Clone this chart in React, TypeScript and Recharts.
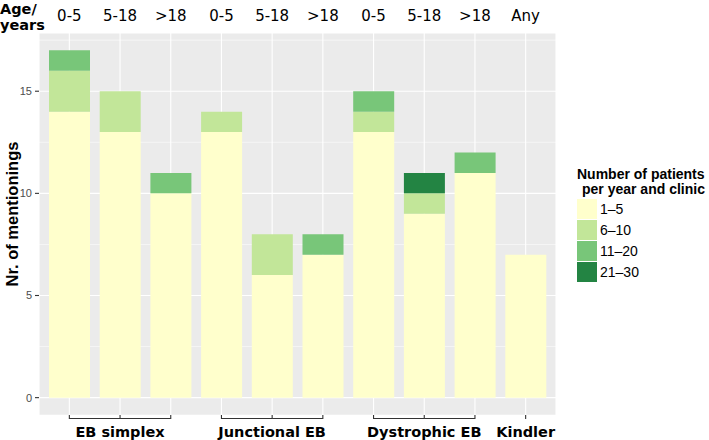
import React from "react";
import { BarChart, Bar, XAxis, YAxis, CartesianGrid } from "recharts";

// disease groups and age bands, one entry per bar
const groups = [
  "EB simplex", "EB simplex", "EB simplex",
  "Junctional EB", "Junctional EB", "Junctional EB",
  "Dystrophic EB", "Dystrophic EB", "Dystrophic EB",
  "Kindler",
];
const ages = ["0-5", "5-18", ">18", "0-5", "5-18", ">18", "0-5", "5-18", ">18", "Any"];

// number of mentionings per patient-count class
const n1to5 = [14, 13, 10, 13, 6, 7, 13, 9, 11, 7];
const n6to10 = [2, 2, 0, 1, 2, 0, 1, 1, 0, 0];
const n11to20 = [1, 0, 1, 0, 0, 1, 1, 0, 1, 0];
const n21to30 = [0, 0, 0, 0, 0, 0, 0, 1, 0, 0];

const classLabels = ["1–5", "6–10", "11–20", "21–30"];
const classColors = ["#FFFFCC", "#C2E699", "#78C679", "#238443"];
const classKeys = ["c1", "c2", "c3", "c4"];

const yTicks = [0, 2.5, 5, 7.5, 10, 12.5, 15, 17.5];

const data = ages.map((age, i) => ({
  key: `${groups[i]} ${age}`,
  c1: n1to5[i],
  c2: n6to10[i],
  c3: n11to20[i],
  c4: n21to30[i],
}));

const W = 709;
const H = 440;
const RIGHT = 153;
const Y_AXIS_W = 39;
const TOP_H = 33;
const BOTTOM_H = 25;
const PAD = 5;
const STEP = (W - RIGHT - Y_AXIS_W - 2 * PAD) / ages.length;

const SANS = "'Liberation Sans', Arial, sans-serif";
const VERDANA = "'DejaVu Sans', Verdana, sans-serif";

function TopTick(props: any) {
  const { x, y, index } = props;
  return (
    <text x={x} y={y} textAnchor="middle" fontFamily={VERDANA} fontSize={15} fill="#000">
      {ages[index]}
    </text>
  );
}

function BottomTick(props: any) {
  const { x, y, index } = props;
  const g = groups[index];
  const members = groups.map((gg, i) => (gg === g ? i : -1)).filter((i) => i >= 0);
  const mid = members[Math.floor(members.length / 2)];
  const sameNext = groups[index + 1] === g;
  return (
    <g>
      <line x1={x} x2={x} y1={y} y2={y + 4} stroke="#333" strokeWidth={1.1} />
      {sameNext && (
        <line x1={x} x2={x + STEP} y1={y + 3.5} y2={y + 3.5} stroke="#333" strokeWidth={1.1} />
      )}
      {index === mid && (
        <text x={x} y={y + 22} textAnchor="middle" fontFamily={VERDANA} fontWeight="bold" fontSize={14.5} fill="#000">
          {g}
        </text>
      )}
    </g>
  );
}

function LeftTick(props: any) {
  const { x, y, payload } = props;
  if (payload.value % 5 !== 0) return null;
  return (
    <g>
      <line x1={x + 3} x2={x + 7} y1={y} y2={y} stroke="#333" strokeWidth={1.1} />
      <text x={x} y={y} dy="0.36em" textAnchor="end" fontFamily={SANS} fontSize={11} fill="#4D4D4D">
        {payload.value}
      </text>
    </g>
  );
}

function GridLine(props: any) {
  const { x1, x2, y1, y2, index } = props;
  return (
    <line
      x1={x1}
      x2={x2}
      y1={y1}
      y2={y2}
      stroke="#FFFFFF"
      strokeWidth={index % 2 === 0 ? 1.1 : 0.55}
    />
  );
}

function YTitle(props: any) {
  const { viewBox } = props;
  const cx = viewBox.x + 12;
  const cy = viewBox.y + viewBox.height / 2 - 10;
  return (
    <text
      x={cx}
      y={cy}
      transform={`rotate(-90 ${cx} ${cy})`}
      textAnchor="middle"
      dy="0.36em"
      fontFamily={SANS}
      fontWeight="bold"
      fontSize={16.5}
      fill="#000"
    >
      Nr. of mentionings
    </text>
  );
}

export default function App() {
  return (
    <div style={{ position: "absolute", left: 0, top: 0, width: W, height: H, background: "#fff" }}>
      <BarChart width={W} height={H} data={data} margin={{ top: 0, right: RIGHT, bottom: 0, left: 0 }}>
        <CartesianGrid
          xAxisId="bottom"
          fill="#EBEBEB"
          stroke="#FFFFFF"
          strokeWidth={1.1}
          horizontal={GridLine}
        />
        <XAxis
          xAxisId="top"
          orientation="top"
          dataKey="key"
          height={TOP_H}
          padding={{ left: PAD, right: PAD }}
          interval={0}
          axisLine={false}
          tickLine={false}
          tickSize={0}
          tickMargin={12}
          tick={<TopTick />}
        />
        <XAxis
          xAxisId="bottom"
          dataKey="key"
          height={BOTTOM_H}
          padding={{ left: PAD, right: PAD }}
          interval={0}
          axisLine={false}
          tickLine={false}
          tickSize={0}
          tickMargin={0}
          tick={<BottomTick />}
        />
        <YAxis
          type="number"
          width={Y_AXIS_W}
          domain={[-0.85, 17.85]}
          allowDataOverflow
          ticks={yTicks}
          interval={0}
          axisLine={false}
          tickLine={false}
          tickSize={4}
          tickMargin={3}
          tick={<LeftTick />}
          label={<YTitle />}
        />
        {classKeys.map((k, i) => (
          <Bar
            key={k}
            xAxisId="bottom"
            dataKey={k}
            stackId="a"
            fill={classColors[i]}
            barSize={41}
            isAnimationActive={false}
          />
        ))}
      </BarChart>
      <svg width={W} height={H} style={{ position: "absolute", left: 0, top: 0, pointerEvents: "none" }}>
        <text fontFamily={VERDANA} fontWeight="bold" fontSize={14.5} fill="#000">
          <tspan x={0} y={14}>Age/</tspan>
          <tspan x={0} y={30}>years</tspan>
        </text>
        <text fontFamily={SANS} fontWeight="bold" fontSize={14} fill="#000">
          <tspan x={577} y={179}>Number of patients</tspan>
          <tspan x={582} y={194}>per year and clinic</tspan>
        </text>
        {classLabels.map((lab, i) => (
          <g key={lab}>
            <rect x={577} y={199 + 21 * i} width={20} height={20} fill={classColors[i]} />
            <text x={600} y={214 + 21 * i} fontFamily={SANS} fontSize={14} fill="#000">
              {lab}
            </text>
          </g>
        ))}
      </svg>
    </div>
  );
}
